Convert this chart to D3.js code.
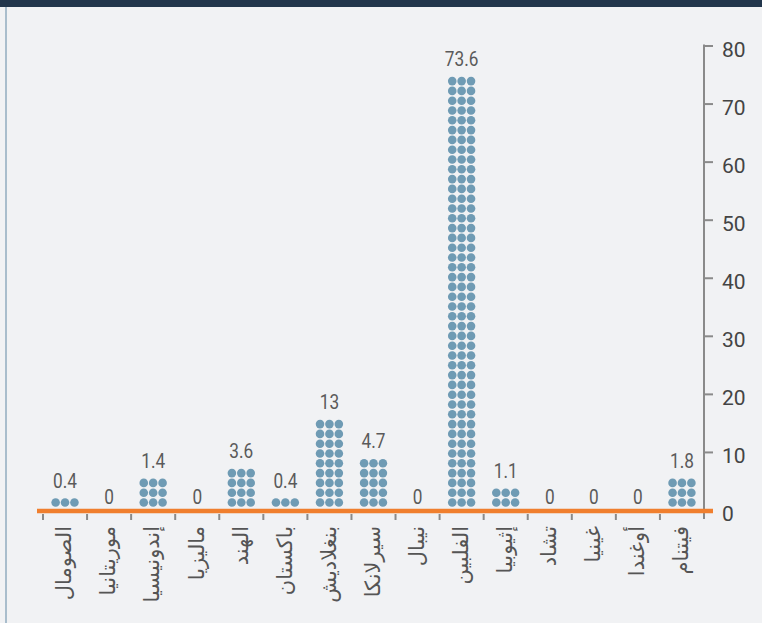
<!DOCTYPE html>
<html>
<head>
<meta charset="utf-8">
<script src="https://cdn.jsdelivr.net/npm/d3@7"></script>
<style>
  html, body { margin: 0; padding: 0; background: #f1f2f4; }
  svg { display: block; }
</style>
</head>
<body>
<svg id="chart" width="762" height="623"></svg>
<script>
// ---- data ----
const categories = ["الصومال", "موريتانيا", "إندونيسيا", "ماليزيا", "الهند", "باكستان", "بنغلاديش", "سيرلانكا", "نيبال", "الفلبين", "إثيوبيا", "تشاد", "غينيا", "أوغندا", "فيتنام"];
const values = [0.4, 0, 1.4, 0, 3.6, 0.4, 13, 4.7, 0, 73.6, 1.1, 0, 0, 0, 1.8];
const dotRows = [1, 0, 3, 0, 4, 1, 9, 5, 0, 44, 2, 0, 0, 0, 3];
const yTicks = [0, 10, 20, 30, 40, 50, 60, 70, 80];

// ---- layout ----
const W = 762, H = 623;
const svg = d3.select("#chart");

svg.append("rect").attr("x", 0).attr("y", 0).attr("width", W).attr("height", H).attr("fill", "#f1f2f4");
svg.append("rect").attr("x", 0).attr("y", 0).attr("width", W).attr("height", 7).attr("fill", "#22364c");
svg.append("line").attr("x1", 6).attr("x2", 6).attr("y1", 7).attr("y2", H)
  .attr("stroke", "#a9bdcc").attr("stroke-width", 2);

const x = d3.scaleBand().domain(categories).range([43, 704]).padding(0);
const y = d3.scaleLinear().domain([0, 80]).range([510, 45.5]);

const axisX = 704;

// y axis
const yAxis = d3.axisRight(y).tickValues(yTicks).tickSize(9).tickSizeOuter(0).tickFormat(d3.format("d"));
const gy = svg.append("g").attr("transform", `translate(${axisX},0)`).call(yAxis);
gy.select(".domain").remove();
gy.selectAll(".tick line").attr("stroke", "#8a8a8a").attr("stroke-width", 2);
gy.selectAll(".tick text")
  .attr("x", 18)
  .attr("dy", "0.5em")
  .attr("fill", "#444")
  .attr("font-family", "Roboto, 'Noto Sans', sans-serif")
  .attr("font-size", 21);
svg.append("line")
  .attr("x1", axisX).attr("x2", axisX)
  .attr("y1", y(80) - 1).attr("y2", y(0) + 9)
  .attr("stroke", "#8a8a8a").attr("stroke-width", 2);

// category separator ticks
const bounds = categories.map(c => x(c)).concat([x(categories[categories.length - 1]) + x.bandwidth()]);
svg.append("g").selectAll("line").data(bounds.slice(0, -1)).join("line")
  .attr("x1", d => d).attr("x2", d => d)
  .attr("y1", y(0) + 4).attr("y2", y(0) + 10)
  .attr("stroke", "#8a8a8a").attr("stroke-width", 2);

// dots
const rowPitch = 9.8, colPitch = 9.4, r = 4.3;
const bottomRowY = y(0) - 7.5;
const dotData = [];
categories.forEach((c, i) => {
  for (let row = 0; row < dotRows[i]; row++) {
    for (let col = -1; col <= 1; col++) {
      dotData.push({ c, row, col });
    }
  }
});
svg.append("g").selectAll("circle").data(dotData).join("circle")
  .attr("cx", d => x(d.c) + x.bandwidth() / 2 + d.col * colPitch)
  .attr("cy", d => bottomRowY - d.row * rowPitch)
  .attr("r", r)
  .attr("fill", "#6f9bb4");

// baseline
svg.append("line")
  .attr("x1", 37).attr("x2", 713)
  .attr("y1", y(0) + 1).attr("y2", y(0) + 1)
  .attr("stroke", "#f07f2e").attr("stroke-width", 4.5);

// value labels
svg.append("g").selectAll("text").data(categories).join("text")
  .attr("transform", (c, i) => {
    const cx = x(c) + x.bandwidth() / 2;
    const ty = dotRows[i] > 0 ? bottomRowY - (dotRows[i] - 1) * rowPitch - 15 : y(0) - 6;
    return `translate(${cx},${ty}) scale(0.82,1)`;
  })
  .attr("text-anchor", "middle")
  .attr("fill", "#5a5a5a")
  .attr("font-family", "Roboto, 'Noto Sans', sans-serif")
  .attr("font-size", 21)
  .text((c, i) => values[i]);

// category labels
svg.append("g").selectAll("text").data(categories).join("text")
  .attr("transform", c => `translate(${x(c) + x.bandwidth() / 2},526) rotate(-90)`)
  .attr("text-anchor", "end")
  .attr("dy", "0.3em")
  .attr("fill", "#555")
  .attr("font-family", "'DejaVu Sans', 'Noto Sans', sans-serif")
  .attr("font-size", 21)
  .text(c => c);
</script>
</body>
</html>
